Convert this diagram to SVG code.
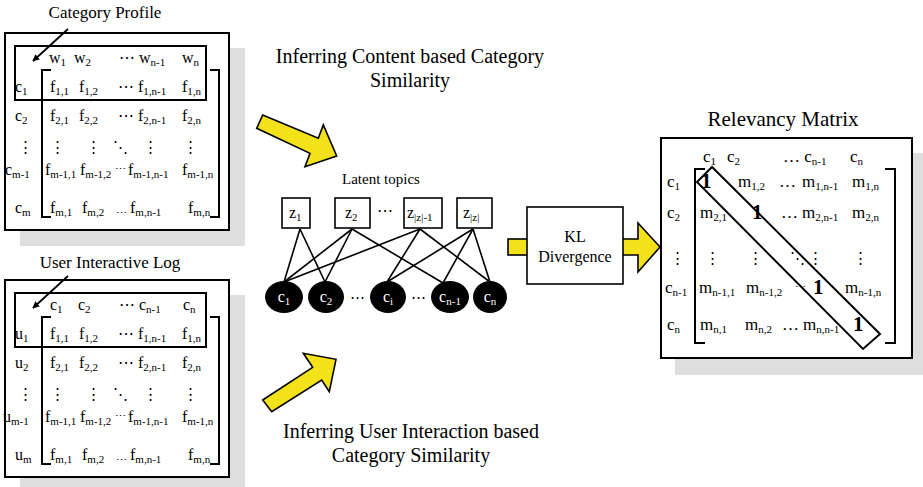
<svg xmlns="http://www.w3.org/2000/svg" width="923" height="487" viewBox="0 0 923 487">
<defs>
<style>
text{font-family:"Liberation Serif","Times New Roman","DejaVu Serif",serif;fill:#000}
.e{font-size:16px}
.r{font-size:17px}
.h{font-size:17px;text-anchor:middle}
.big{font-size:20px;text-anchor:middle}
.rt{font-size:21px;text-anchor:middle}
.sb{font-size:11px}
.b{font-size:21px;font-weight:bold}
.dt{font-size:15px;text-anchor:middle}
.sm{font-size:11px}
.shadow{fill:#dedede}
.box{fill:#fff;stroke:#000;stroke-width:2}
.ln{fill:none;stroke:#000;stroke-width:2}
.yel{fill:#f3e21a;stroke:#000;stroke-width:1.6;stroke-linejoin:miter}
.edge{stroke:#000;stroke-width:1.6;fill:none}
.zb{fill:#fff;stroke:#000;stroke-width:1.6}
.cn{fill:#000}
.wt{fill:#fff;font-size:16px;text-anchor:middle}
.lt{font-size:15px;text-anchor:middle}
</style>
<marker id="ah" viewBox="0 0 10 10" refX="9" refY="5" markerWidth="7" markerHeight="7" orient="auto" markerUnits="userSpaceOnUse">
<path d="M0,0 L10,5 L0,10 z" fill="#000"/>
</marker>
</defs>
<rect width="923" height="487" fill="#fff"/>

<!-- Category Profile matrix -->
<g id="category-profile">
<rect class="shadow" x="20" y="48" width="225" height="198"/>
<rect class="box" x="5" y="33" width="224" height="197"/>
<rect class="ln" x="15" y="46" width="191" height="54"/>
<path class="ln" d="M51,70 H42 V217 H51 M210,70 H219 V217 H210"/>
<text class="h" x="105" y="18">Category Profile</text>
<line x1="68" y1="29" x2="33" y2="61" stroke="#000" stroke-width="1.8" marker-end="url(#ah)"/>
<text class="e" x="49" y="63">w<tspan class="sb" dy="3">1</tspan></text>
<text class="e" x="74" y="63">w<tspan class="sb" dy="3">2</tspan></text>
<text class="e" x="119" y="63">⋯ w<tspan class="sb" dy="3">n-1</tspan></text>
<text class="e" x="182" y="63">w<tspan class="sb" dy="3">n</tspan></text>
<text class="e" x="15" y="92">c<tspan class="sb" dy="3">1</tspan></text>
<text class="e" x="50" y="92">f<tspan class="sb" dy="3">1,1</tspan></text>
<text class="e" x="79" y="92">f<tspan class="sb" dy="3">1,2</tspan></text>
<text class="e" x="118" y="92">⋯ f<tspan class="sb" dy="3">1,n-1</tspan></text>
<text class="e" x="182" y="92">f<tspan class="sb" dy="3">1,n</tspan></text>
<text class="e" x="15" y="121">c<tspan class="sb" dy="3">2</tspan></text>
<text class="e" x="50" y="121">f<tspan class="sb" dy="3">2,1</tspan></text>
<text class="e" x="79" y="121">f<tspan class="sb" dy="3">2,2</tspan></text>
<text class="e" x="118" y="121">⋯ f<tspan class="sb" dy="3">2,n-1</tspan></text>
<text class="e" x="182" y="121">f<tspan class="sb" dy="3">2,n</tspan></text>
<text class="dt" x="25" y="152">⋮</text>
<text class="dt" x="57" y="152">⋮</text>
<text class="dt" x="93" y="152">⋮</text>
<text class="dt" x="120" y="152">⋱</text>
<text class="dt" x="150" y="152">⋮</text>
<text class="dt" x="190" y="152">⋮</text>
<text class="e" x="5" y="175">c<tspan class="sb" dy="3">m-1</tspan></text>
<text class="e" x="45" y="175">f<tspan class="sb" dy="3">m-1,1</tspan></text>
<text class="e" x="80" y="175">f<tspan class="sb" dy="3">m-1,2</tspan></text>
<text class="sm" x="115" y="173">⋯</text>
<text class="e" x="128" y="175">f<tspan class="sb" dy="3">m-1,n-1</tspan></text>
<text class="e" x="182" y="175">f<tspan class="sb" dy="3">m-1,n</tspan></text>
<text class="e" x="15" y="213">c<tspan class="sb" dy="3">m</tspan></text>
<text class="e" x="50" y="213">f<tspan class="sb" dy="3">m,1</tspan></text>
<text class="e" x="82" y="213">f<tspan class="sb" dy="3">m,2</tspan></text>
<text class="sm" x="116" y="213">…</text>
<text class="e" x="130" y="213">f<tspan class="sb" dy="3">m,n-1</tspan></text>
<text class="e" x="188" y="213">f<tspan class="sb" dy="3">m,n</tspan></text>
</g>

<!-- User Interactive Log matrix -->
<g id="user-interactive-log" transform="translate(0,247)">
<rect class="shadow" x="20" y="48" width="225" height="198"/>
<rect class="box" x="5" y="33" width="224" height="197"/>
<rect class="ln" x="15" y="46" width="191" height="54"/>
<path class="ln" d="M51,70 H42 V217 H51 M210,70 H219 V217 H210"/>
<text class="h" x="110" y="21">User Interactive Log</text>
<line x1="68" y1="29" x2="33" y2="61" stroke="#000" stroke-width="1.8" marker-end="url(#ah)"/>
<text class="e" x="50" y="63">c<tspan class="sb" dy="3">1</tspan></text>
<text class="e" x="78" y="63">c<tspan class="sb" dy="3">2</tspan></text>
<text class="e" x="119" y="63">⋯ c<tspan class="sb" dy="3">n-1</tspan></text>
<text class="e" x="183" y="63">c<tspan class="sb" dy="3">n</tspan></text>
<text class="e" x="15" y="92">u<tspan class="sb" dy="3">1</tspan></text>
<text class="e" x="50" y="92">f<tspan class="sb" dy="3">1,1</tspan></text>
<text class="e" x="79" y="92">f<tspan class="sb" dy="3">1,2</tspan></text>
<text class="e" x="118" y="92">⋯ f<tspan class="sb" dy="3">1,n-1</tspan></text>
<text class="e" x="182" y="92">f<tspan class="sb" dy="3">1,n</tspan></text>
<text class="e" x="15" y="121">u<tspan class="sb" dy="3">2</tspan></text>
<text class="e" x="50" y="121">f<tspan class="sb" dy="3">2,1</tspan></text>
<text class="e" x="79" y="121">f<tspan class="sb" dy="3">2,2</tspan></text>
<text class="e" x="118" y="121">⋯ f<tspan class="sb" dy="3">2,n-1</tspan></text>
<text class="e" x="182" y="121">f<tspan class="sb" dy="3">2,n</tspan></text>
<text class="dt" x="25" y="152">⋮</text>
<text class="dt" x="57" y="152">⋮</text>
<text class="dt" x="93" y="152">⋮</text>
<text class="dt" x="120" y="152">⋱</text>
<text class="dt" x="150" y="152">⋮</text>
<text class="dt" x="190" y="152">⋮</text>
<text class="e" x="3" y="175">u<tspan class="sb" dy="3">m-1</tspan></text>
<text class="e" x="45" y="175">f<tspan class="sb" dy="3">m-1,1</tspan></text>
<text class="e" x="80" y="175">f<tspan class="sb" dy="3">m-1,2</tspan></text>
<text class="sm" x="115" y="173">⋯</text>
<text class="e" x="128" y="175">f<tspan class="sb" dy="3">m-1,n-1</tspan></text>
<text class="e" x="182" y="175">f<tspan class="sb" dy="3">m-1,n</tspan></text>
<text class="e" x="15" y="213">u<tspan class="sb" dy="3">m</tspan></text>
<text class="e" x="50" y="213">f<tspan class="sb" dy="3">m,1</tspan></text>
<text class="e" x="82" y="213">f<tspan class="sb" dy="3">m,2</tspan></text>
<text class="sm" x="116" y="213">…</text>
<text class="e" x="130" y="213">f<tspan class="sb" dy="3">m,n-1</tspan></text>
<text class="e" x="188" y="213">f<tspan class="sb" dy="3">m,n</tspan></text>
</g>

<!-- captions -->
<g id="caption-content">
<text class="big" x="410" y="63">Inferring Content based Category</text>
<text class="big" x="410" y="87">Similarity</text>
</g>
<g id="caption-user">
<text class="big" x="411" y="438">Inferring User Interaction based</text>
<text class="big" x="411" y="462">Category Similarity</text>
</g>

<!-- connectors -->
<g id="connectors">
<polygon class="yel" points="262.7,115 318.3,138.3 323.3,125 336.7,156 305,166.7 310,153.3 256.7,128.3"/>
<polygon class="yel" points="262.7,400 312.7,367.3 303.3,353.3 336,359.3 329.3,391.7 321.7,380 271.7,411.7"/>
<rect class="yel" x="508" y="239" width="22" height="16"/>
<polygon class="yel" points="620,239 638,239 638,223 660,247 638,272 638,255 620,255"/>
<line class="edge" x1="300" y1="229" x2="284" y2="282"/>
<line class="edge" x1="300" y1="229" x2="325" y2="282"/>
<line class="edge" x1="352" y1="229" x2="284" y2="282"/>
<line class="edge" x1="352" y1="229" x2="325" y2="282"/>
<line class="edge" x1="352" y1="229" x2="443" y2="283"/>
<line class="edge" x1="420" y1="229" x2="284" y2="282"/>
<line class="edge" x1="420" y1="229" x2="387" y2="282"/>
<line class="edge" x1="420" y1="229" x2="490" y2="282"/>
<line class="edge" x1="473" y1="229" x2="387" y2="282"/>
<line class="edge" x1="473" y1="229" x2="443" y2="283"/>
<line class="edge" x1="473" y1="229" x2="490" y2="282"/>
</g>

<!-- latent topic model -->
<g id="latent-topics">
<text class="lt" x="381" y="184">Latent topics</text>
</g>
<g id="z1"><rect class="zb" x="282" y="198" width="28" height="30"/><text class="e" x="289" y="218">z<tspan class="sb" dy="3">1</tspan></text></g>
<g id="z2"><rect class="zb" x="335" y="198" width="35" height="30"/><text class="e" x="345" y="218">z<tspan class="sb" dy="3">2</tspan></text></g>
<text class="e" x="377" y="216">⋯</text>
<g id="zz-1"><rect class="zb" x="404" y="198" width="38" height="30"/><text class="e" x="407" y="218">z<tspan class="sb" dy="3">|z|-1</tspan></text></g>
<g id="zz"><rect class="zb" x="457" y="198" width="35" height="30"/><text class="e" x="463" y="218">z<tspan class="sb" dy="3">|z|</tspan></text></g>
<g id="c1n"><ellipse class="cn" cx="284" cy="297" rx="19" ry="16"/><text class="wt" x="284" y="302">c<tspan class="sb" dy="3">1</tspan></text></g>
<g id="c2n"><ellipse class="cn" cx="326" cy="297" rx="18" ry="16"/><text class="wt" x="326" y="302">c<tspan class="sb" dy="3">2</tspan></text></g>
<text class="dt" x="357" y="302">⋯</text>
<g id="cin"><ellipse class="cn" cx="388" cy="297" rx="18" ry="16"/><text class="wt" x="388" y="302">c<tspan class="sb" dy="3">i</tspan></text></g>
<text class="dt" x="418" y="302">⋯</text>
<g id="cn-1n"><ellipse class="cn" cx="450" cy="297" rx="19" ry="16"/><text class="wt" x="450" y="302">c<tspan class="sb" dy="3">n-1</tspan></text></g>
<g id="cnn"><ellipse class="cn" cx="490" cy="297" rx="17" ry="16"/><text class="wt" x="490" y="302">c<tspan class="sb" dy="3">n</tspan></text></g>

<!-- KL divergence -->
<g id="kl-divergence">
<rect class="zb" x="527" y="207" width="96" height="77"/>
<text class="lt" x="575" y="242" style="font-size:16px">KL</text>
<text class="lt" x="575" y="262" style="font-size:16px">Divergence</text>
</g>

<!-- Relevancy matrix -->
<g id="relevancy-matrix">
<rect class="shadow" x="675" y="153" width="250" height="222"/>
<rect class="box" x="661" y="138" width="251" height="220"/>
<path class="ln" d="M705,169 H695 V343 H705 M885,169 H895 V343 H885"/>
<text class="rt" x="783" y="126">Relevancy Matrix</text>
<text class="r" x="703" y="162">c<tspan class="sb" dy="3">1</tspan></text>
<text class="r" x="727" y="162">c<tspan class="sb" dy="3">2</tspan></text>
<text class="r" x="783" y="162">… c<tspan class="sb" dy="3">n-1</tspan></text>
<text class="r" x="850" y="162">c<tspan class="sb" dy="3">n</tspan></text>
<text class="r" x="667" y="187">c<tspan class="sb" dy="3">1</tspan></text>
<text class="r" x="667" y="218">c<tspan class="sb" dy="3">2</tspan></text>
<text class="dt" x="677" y="263">⋮</text>
<text class="r" x="665" y="293">c<tspan class="sb" dy="3">n-1</tspan></text>
<text class="r" x="667" y="330">c<tspan class="sb" dy="3">n</tspan></text>
<text class="b" x="701" y="188">1</text>
<text class="r" x="738" y="187">m<tspan class="sb" dy="3">1,2</tspan></text>
<text class="r" x="779" y="187">…</text>
<text class="r" x="802" y="187">m<tspan class="sb" dy="3">1,n-1</tspan></text>
<text class="r" x="852" y="187">m<tspan class="sb" dy="3">1,n</tspan></text>
<text class="r" x="700" y="218">m<tspan class="sb" dy="3">2,1</tspan></text>
<text class="b" x="752" y="219">1</text>
<text class="r" x="781" y="218">…</text>
<text class="r" x="802" y="218">m<tspan class="sb" dy="3">2,n-1</tspan></text>
<text class="r" x="852" y="218">m<tspan class="sb" dy="3">2,n</tspan></text>
<text class="dt" x="712" y="263">⋮</text>
<text class="dt" x="755" y="263">⋮</text>
<text class="dt" x="797" y="263">⋱</text>
<text class="dt" x="815" y="263">⋮</text>
<text class="dt" x="860" y="263">⋮</text>
<text class="r" x="699" y="293">m<tspan class="sb" dy="3">n-1,1</tspan></text>
<text class="r" x="746" y="293">m<tspan class="sb" dy="3">n-1,2</tspan></text>
<text class="sm" x="795" y="291">⋯</text>
<text class="b" x="813" y="294">1</text>
<text class="r" x="845" y="293">m<tspan class="sb" dy="3">n-1,n</tspan></text>
<text class="r" x="700" y="330">m<tspan class="sb" dy="3">n,1</tspan></text>
<text class="r" x="745" y="330">m<tspan class="sb" dy="3">n,2</tspan></text>
<text class="r" x="782" y="330">…</text>
<text class="r" x="803" y="330">m<tspan class="sb" dy="3">n,n-1</tspan></text>
<text class="b" x="853" y="331">1</text>
<polygon class="ln" points="712,167 697,182 863,349 880,334"/>
</g>
</svg>
